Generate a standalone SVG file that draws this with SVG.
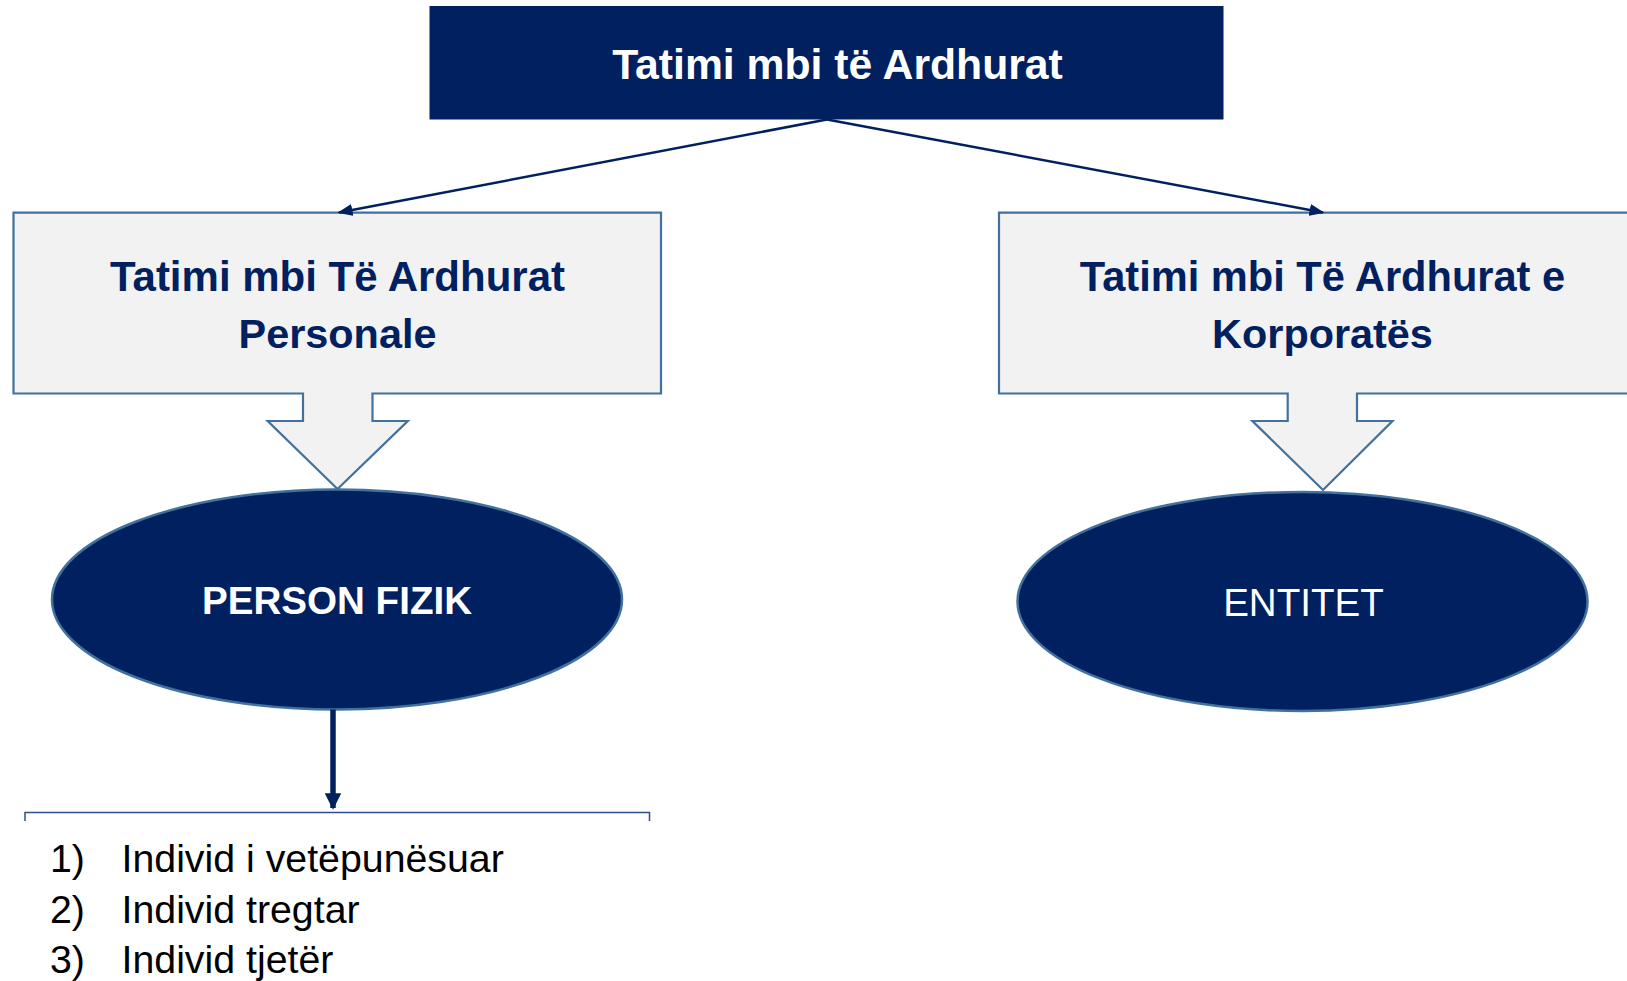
<svg xmlns="http://www.w3.org/2000/svg" width="1627" height="981" viewBox="0 0 1627 981">
<defs>
<style>
.t{font-family:"Liberation Sans",Arial,sans-serif}
.b{font-weight:bold}
.box{fill:#F2F2F2;stroke:#41719C;stroke-width:2.2}
.ell{fill:#002060;stroke:#41719C;stroke-width:2.5}
.conn{fill:none;stroke:#002060;stroke-width:2.5}
</style>
<marker id="ah" viewBox="0 0 10 10" refX="9" refY="5" markerWidth="6" markerHeight="6" markerUnits="strokeWidth" orient="auto"><path d="M0,1 L10,5 L0,9 Z" fill="#002060"/></marker>
<marker id="ah2" viewBox="0 0 10 10" refX="9" refY="5" markerWidth="3" markerHeight="3" markerUnits="strokeWidth" orient="auto"><path d="M0,0 L10,5 L0,10 Z" fill="#002060"/></marker>
</defs>
<g id="top">
<rect x="429.5" y="6" width="794" height="113.5" fill="#002060"/>
<text class="t b" x="837.5" y="79" font-size="42.7" fill="#fff" text-anchor="middle">Tatimi mbi të Ardhurat</text>
</g>
<g id="personal">
<path class="box" d="M13.5,212.7 H661 V393.5 H372.5 V421 H407.8 L337.5,489 L267.7,421 H303 V393.5 H13.5 Z"/>
<text class="t b" x="337.5" y="290.5" font-size="42" fill="#002060" text-anchor="middle">Tatimi mbi Të Ardhurat</text>
<text class="t b" x="337.5" y="347.5" font-size="41.4" fill="#002060" text-anchor="middle">Personale</text>
</g>
<g id="corporate">
<path class="box" d="M999,212.7 H1646 V393.5 H1357 V421 H1392.5 L1323,490 L1252.4,421 H1287.7 V393.5 H999 Z"/>
<text class="t b" x="1322.5" y="290.5" font-size="41.6" fill="#002060" text-anchor="middle">Tatimi mbi Të Ardhurat e</text>
<text class="t b" x="1322.5" y="347.5" font-size="41.4" fill="#002060" text-anchor="middle">Korporatës</text>
</g>
<g id="person-fizik">
<ellipse class="ell" cx="337" cy="599.5" rx="285" ry="110"/>
<text class="t b" x="337" y="614" font-size="38.6" fill="#fff" text-anchor="middle">PERSON FIZIK</text>
</g>
<g id="entitet">
<ellipse class="ell" cx="1302.5" cy="601.5" rx="285" ry="109.5"/>
<text class="t" x="1303.5" y="616" font-size="38.6" fill="#fff" text-anchor="middle">ENTITET</text>
</g>
<g id="list">
<path d="M25,821 V812.5 H649.5 V821" fill="none" stroke="#2F4E8C" stroke-width="1.5"/>
<g class="t" font-size="39.3" fill="#000">
<text x="50" y="872">1)</text><text x="121.5" y="872">Individ i vetëpunësuar</text>
<text x="50" y="922.5">2)</text><text x="121.5" y="922.5">Individ tregtar</text>
<text x="50" y="973">3)</text><text x="121.5" y="973">Individ tjetër</text>
</g>
</g>
<g id="connectors">
<line class="conn" x1="827" y1="119.5" x2="339" y2="212.5" marker-end="url(#ah)"/>
<line class="conn" x1="827" y1="119.5" x2="1323" y2="212.5" marker-end="url(#ah)"/>
<line x1="333" y1="709.5" x2="333" y2="808" stroke="#002060" stroke-width="5.5" marker-end="url(#ah2)"/>
</g>
</svg>
